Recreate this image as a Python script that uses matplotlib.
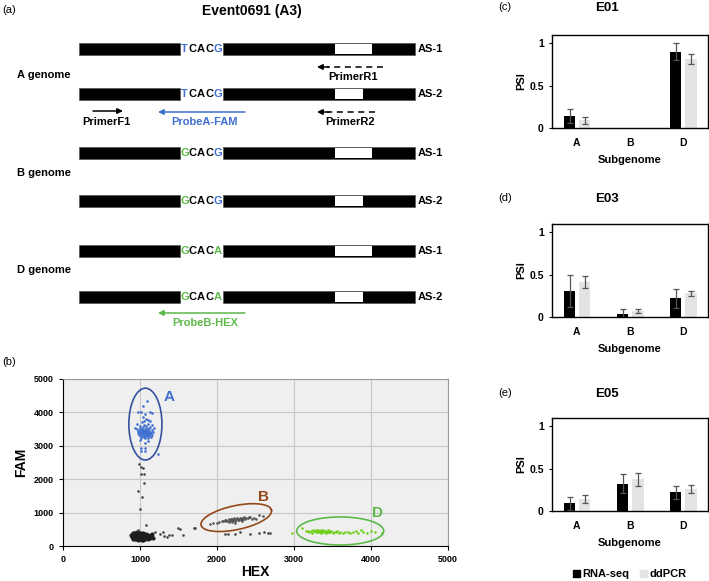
import numpy as np
import matplotlib
matplotlib.use("Agg")
import matplotlib.pyplot as plt
from matplotlib.patches import Rectangle, Ellipse

plt.rcParams['font.family'] = ['Liberation Sans', 'DejaVu Sans']

BLUE = '#3f6fd0'
GREEN = '#5db84a'
BROWN = '#94481a'

# ---- (b) droplet scatter data (HEX, FAM) ----
a_hex = [1096, 1044, 979, 1014, 1131, 1161, 1066, 1036, 1079, 1053, 1131, 1109, 958, 936, 1001, 1109,
         1066, 1010, 1066, 1014, 1066, 1239,
         980, 1000, 1010, 1020, 1030, 1040, 1050, 1060, 1070, 1080, 1090, 1100, 1110, 1120, 1130, 1140,
         990, 1005, 1015, 1025, 1035, 1045, 1055, 1065, 1075, 1085, 1095, 1105, 1115, 1125, 970, 995,
         1040, 1075, 1150, 1160, 1010, 1060, 1100, 1145, 985, 1020, 1048, 1068, 1088, 1108, 1028, 1058,
         1078, 1118, 960, 1170, 1090, 1130, 1050, 1000, 1150, 1020, 1110, 1180]
a_fam = [4350, 4180, 4010, 4010, 4010, 3980, 3950, 3860, 3800, 3730, 3730, 3660, 3660, 3530, 3180, 3130,
         3080, 2930, 2930, 2850, 2850, 2760,
         3450, 3400, 3350, 3420, 3380, 3300, 3450, 3360, 3410, 3320, 3390, 3440, 3350, 3300, 3420, 3380,
         3320, 3480, 3290, 3510, 3440, 3370, 3260, 3490, 3350, 3450, 3280, 3400, 3500, 3350, 3380, 3540,
         3560, 3600, 3460, 3330, 3240, 3220, 3240, 3260, 3420, 3360, 3410, 3330, 3370, 3310, 3470, 3430,
         3470, 3420, 3500, 3400, 3520, 3560, 3620, 3600, 3620, 3700, 3780, 3520]

# double-negative blob near (1000, 300)
blob_hex = [890, 900, 900, 910, 910, 910, 920, 920, 920, 930, 930, 930, 940, 940, 940, 950, 950, 950,
            960, 960, 960, 970, 970, 970, 980, 980, 980, 990, 990, 990, 1000, 1000, 1000, 1010, 1010, 1010,
            1020, 1020, 1020, 1030, 1030, 1030, 1040, 1040, 1040, 1050, 1050, 1050, 1060, 1060, 1070, 1070,
            1070, 1080, 1080, 1090, 1090, 1100, 1100, 1110, 1110, 1120, 1130, 1140, 1150, 1160, 1170, 880,
            960, 1040]
blob_fam = [300, 260, 340, 220, 300, 380, 250, 320, 400, 200, 280, 350, 230, 310, 390, 260, 330, 200,
            290, 370, 230, 250, 320, 410, 190, 280, 350, 240, 310, 390, 210, 270, 340, 300, 380, 230,
            260, 330, 190, 290, 360, 220, 250, 320, 400, 280, 350, 210, 240, 310, 270, 340,
            200, 300, 370, 250, 320, 280, 210, 340, 260, 300, 240, 320, 280, 350, 230, 330,
            420, 180]

# stray grey droplets
stray_hex = [992, 1014, 1036, 1014, 1057, 1053, 979, 1023, 1001, 1079, 979,
             1196, 1261, 1304, 1313, 1348, 1382, 1421, 1499, 1521, 1556, 1703, 1716,
             2106, 2149, 2236, 2301, 2431, 2539, 2604, 2656, 2682]
stray_fam = [2450, 2380, 2330, 2160, 2160, 1880, 1650, 1480, 1110, 630, 480,
             430, 360, 410, 310, 280, 330, 330, 550, 510, 330, 550, 530,
             360, 350, 360, 410, 360, 380, 410, 380, 380]

b_hex = [1911, 1954, 1998, 2030, 2063, 2080, 2100, 2110, 2120, 2135, 2150, 2160, 2170, 2180, 2190, 2200,
         2210, 2220, 2230, 2240, 2250, 2260, 2270, 2280, 2290, 2300, 2310, 2320, 2330, 2340, 2350, 2360,
         2380, 2400, 2420, 2431, 2460, 2480, 2500, 2539, 2596, 2150, 2240, 2320, 2200]
b_fam = [660, 680, 700, 720, 760, 740, 770, 740, 790, 760, 800, 750, 780, 820, 760, 800,
         780, 830, 790, 760, 810, 840, 790, 820, 770, 850, 800, 830, 780, 820, 860, 800,
         850, 830, 870, 880, 820, 850, 800, 930, 910, 730, 700, 740, 730]

d_hex = [2973, 3103, 3150, 3200, 3220, 3240, 3260, 3280, 3290, 3300, 3320, 3330, 3340, 3350, 3360, 3370,
         3380, 3390, 3400, 3410, 3420, 3430, 3440, 3450, 3460, 3470, 3480, 3500, 3520, 3540, 3560, 3580,
         3600, 3630, 3660, 3700, 3730, 3760, 3800, 3830, 3870, 3900, 3950, 4000, 4050, 4143, 3180, 3250,
         3310, 3350, 3440]
d_fam = [400, 530, 460, 420, 440, 400, 450, 430, 470, 410, 450, 430, 460, 400, 440, 420,
         470, 410, 450, 430, 400, 440, 420, 460, 410, 430, 450, 400, 430, 410, 440, 400,
         420, 390, 410, 430, 380, 420, 450, 390, 480, 410, 400, 440, 420, 400, 450, 480,
         480, 470, 470]

# ---- (c)-(e) PSI bars ----
subgenomes = ['A', 'B', 'D']
events = ['E01', 'E03', 'E05']
panel_tags = ['(c)', '(d)', '(e)']
rna_psi = {'E01': [0.14, 0.0, 0.90], 'E03': [0.31, 0.04, 0.22], 'E05': [0.09, 0.325, 0.22]}
rna_err = {'E01': [0.08, 0.0, 0.10], 'E03': [0.19, 0.06, 0.11], 'E05': [0.08, 0.11, 0.08]}
dd_psi = {'E01': [0.09, 0.0, 0.82], 'E03': [0.41, 0.075, 0.28], 'E05': [0.14, 0.375, 0.26]}
dd_err = {'E01': [0.04, 0.0, 0.06], 'E03': [0.07, 0.025, 0.03], 'E05': [0.045, 0.08, 0.045]}

W, H = 709, 581
fig = plt.figure(figsize=(W / 100, H / 100), dpi=100)

# overlay axes in pixel coordinates for the schematic (a)
ax0 = fig.add_axes([0, 0, 1, 1])
ax0.set_xlim(0, W)
ax0.set_ylim(H, 0)
ax0.axis('off')

FS = 8
ax0.text(2, 10, '(a)', fontsize=8, va='center')
ax0.text(252, 11, 'Event0691 (A3)', fontsize=10, fontweight='bold', ha='center', va='center')

rows_y = [49, 94, 153, 201, 251, 297]
rows_as = ['AS-1', 'AS-2', 'AS-1', 'AS-2', 'AS-1', 'AS-2']
rows_seq = ['TCACG', 'TCACG', 'GCACG', 'GCACG', 'GCACA', 'GCACA']
rows_col = [[BLUE, 'k', 'k', 'k', BLUE], [BLUE, 'k', 'k', 'k', BLUE],
            [GREEN, 'k', 'k', 'k', BLUE], [GREEN, 'k', 'k', 'k', BLUE],
            [GREEN, 'k', 'k', 'k', GREEN], [GREEN, 'k', 'k', 'k', GREEN]]
letter_x = [184.5, 192.5, 201, 209.5, 217.5]
box_right = [372, 363, 372, 363, 372, 363]
bh = 12
for y, lab, seq, cols, br in zip(rows_y, rows_as, rows_seq, rows_col, box_right):
    ax0.add_patch(Rectangle((79, y - bh / 2), 101, bh, fc='black', ec='#555555', lw=0.5))
    ax0.add_patch(Rectangle((223, y - bh / 2), 192, bh, fc='black', ec='#555555', lw=0.5))
    ax0.add_patch(Rectangle((335, y - bh / 2 + 1), br - 335, bh - 2, fc='white', ec='none'))
    for lx, ch, c in zip(letter_x, seq, cols):
        ax0.text(lx, y, ch, color=c, fontsize=FS, fontweight='bold', ha='center', va='center')
    ax0.text(418, y, lab, fontsize=FS, fontweight='bold', va='center')

for lab, y in [('A genome', 75), ('B genome', 173), ('D genome', 270)]:
    ax0.text(17, y, lab, fontsize=FS, fontweight='bold', va='center')


def arrow(x0, x1, y, color, dashed=False):
    if dashed:
        ax0.plot([x0, x1 + 10], [y, y], color=color, lw=1.1, ls=(0, (4, 3)))
        x0 = x1 + 12
    ax0.annotate('', xy=(x1, y), xytext=(x0, y),
                 arrowprops=dict(arrowstyle='-|>', color=color, lw=1.1,
                                 mutation_scale=8, shrinkA=0, shrinkB=0))


arrow(383, 317, 67, 'black', dashed=True)
ax0.text(353, 77, 'PrimerR1', fontsize=FS, fontweight='bold', ha='center', va='center')
arrow(375, 317, 112, 'black', dashed=True)
ax0.text(350, 122, 'PrimerR2', fontsize=FS, fontweight='bold', ha='center', va='center')
arrow(93, 123, 111, 'black')
ax0.text(106, 122, 'PrimerF1', fontsize=FS, fontweight='bold', ha='center', va='center')
arrow(245, 158, 112, BLUE)
ax0.text(205, 122, 'ProbeA-FAM', fontsize=FS, fontweight='bold', ha='center', va='center', color=BLUE)
arrow(245, 158, 313, GREEN)
ax0.text(205, 323, 'ProbeB-HEX', fontsize=FS, fontweight='bold', ha='center', va='center', color=GREEN)

# ---- (b) scatter ----
ax0.text(2, 362, '(b)', fontsize=8, va='center')
axs = fig.add_axes([63 / W, 1 - 546 / H, 385 / W, 167 / H])
axs.set_facecolor('#efefef')
axs.set_xlim(0, 5000)
axs.set_ylim(0, 5000)
axs.set_xticks(range(0, 5001, 1000))
axs.set_yticks(range(0, 5001, 1000))
axs.grid(True, color='#c8c8c8', lw=0.8)
axs.set_axisbelow(True)
axs.tick_params(labelsize=6.5, length=3, width=0.8)
for t in axs.get_xticklabels() + axs.get_yticklabels():
    t.set_fontweight('bold')
for s in ['top', 'right']:
    axs.spines[s].set_color('#999999')
axs.set_xlabel('HEX', fontsize=10, fontweight='bold', labelpad=1)
axs.set_ylabel('FAM', fontsize=10, fontweight='bold', labelpad=4)

axs.scatter(blob_hex, blob_fam, s=9, color='#1e1e1e', lw=0)
axs.scatter(stray_hex, stray_fam, s=3.5, color='#444444', lw=0)
axs.scatter(b_hex, b_fam, s=3.5, color='#555555', lw=0)
axs.scatter(a_hex, a_fam, s=3.5, color=BLUE, lw=0)
axs.scatter(d_hex, d_fam, s=3.5, color='#6fcf1a', lw=0)

axs.add_patch(Ellipse((1070, 3650), 430, 2150, fill=False, ec='#33529e', lw=1.2))
axs.add_patch(Ellipse((3600, 450), 1130, 840, fill=False, ec=GREEN, lw=1.2))
# tilted ellipse for B drawn in pixel-like space (axes are not equal aspect)
t = np.linspace(0, 2 * np.pi, 200)
ang = np.deg2rad(12)
px = 36 * np.cos(t) * np.cos(ang) - 12 * np.sin(t) * np.sin(ang)
py = 36 * np.cos(t) * np.sin(ang) + 12 * np.sin(t) * np.cos(ang)
axs.plot(2250 + px * 5000 / 385, 850 + py * 5000 / 167, color=BROWN, lw=1.2)

axs.text(1380, 4460, 'A', color=BLUE, fontsize=11, fontweight='bold', ha='center', va='center')
axs.text(2610, 1480, 'B', color=BROWN, fontsize=11, fontweight='bold', ha='center', va='center')
axs.text(4090, 990, 'D', color=GREEN, fontsize=11, fontweight='bold', ha='center', va='center')

# ---- (c)-(e) bars ----
tops = [35, 224, 418]
tag_y = [7, 198, 393]
x = np.arange(len(subgenomes))
bw = 0.21
for ev, tag, top, ty in zip(events, panel_tags, tops, tag_y):
    ax = fig.add_axes([552 / W, 1 - (top + 93) / H, 156 / W, 93 / H])
    r, re_, d, de = rna_psi[ev], rna_err[ev], dd_psi[ev], dd_err[ev]
    ax.bar(x - 0.14, r, bw, color='black')
    ax.bar(x + 0.15, d, bw, color='#e3e3e3')
    for xi, v, e in zip(x - 0.14, r, re_):
        if e > 0:
            ax.errorbar(xi, v, yerr=e, color='#555555', capsize=2, lw=0.9, capthick=0.9)
    for xi, v, e in zip(x + 0.15, d, de):
        if e > 0:
            ax.errorbar(xi, v, yerr=e, color='#555555', capsize=2, lw=0.9, capthick=0.9)
    ax.set_xlim(-0.47, 2.47)
    ax.set_ylim(0, 1.1)
    ax.set_yticks([0, 0.5, 1])
    ax.set_yticklabels(['0', '0.5', '1'])
    ax.set_xticks(x)
    ax.set_xticklabels(subgenomes)
    ax.tick_params(axis='x', length=0, labelsize=7.5, pad=7)
    ax.tick_params(axis='y', length=2.5, labelsize=7.5)
    for tl in ax.get_xticklabels() + ax.get_yticklabels():
        tl.set_fontweight('bold')
    for s in ax.spines.values():
        s.set_linewidth(1.0)
    ax.set_xlabel('Subgenome', fontsize=8, fontweight='bold', labelpad=5)
    ax.set_ylabel('PSI', fontsize=8, fontweight='bold', labelpad=2)
    ax0.text(505, ty, tag, fontsize=8, ha='center', va='center')
    ax0.text(607, ty + 1, ev, fontsize=9.5, fontweight='bold', ha='center', va='center')

handles = [Rectangle((0, 0), 1, 1, color='black'), Rectangle((0, 0), 1, 1, color='#e3e3e3')]
fig.legend(handles, ['RNA-seq', 'ddPCR'], loc='center', bbox_to_anchor=(630 / W, 1 - 574 / H),
           ncol=2, frameon=False, prop={'weight': 'bold', 'size': 8}, handlelength=0.6,
           handleheight=0.6, handletextpad=0.2, columnspacing=1.0)

fig.savefig('out.png', dpi=100)
